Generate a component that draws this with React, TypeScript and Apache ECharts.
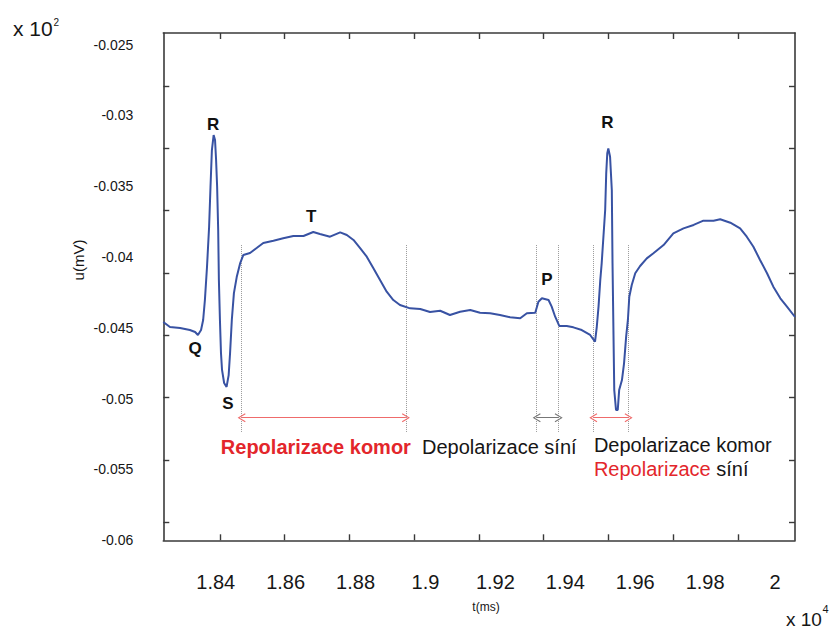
import React, { useEffect, useRef } from "react";
import * as echarts from "echarts";

// ECG trace: t in units of 10^4 ms, u in units of 10^2 mV
const timeX = [
  1.825, 1.8269, 1.8298, 1.8326, 1.8341, 1.8349, 1.8358, 1.8364, 1.8369, 1.8375,
  1.8381, 1.8385, 1.8389, 1.8394, 1.8398, 1.8401, 1.8404, 1.8407, 1.8409, 1.8412,
  1.8415, 1.8418, 1.8424, 1.8431, 1.8437, 1.8441, 1.8446, 1.8452, 1.846, 1.847,
  1.8479, 1.8498, 1.8517, 1.8536, 1.8565, 1.8593, 1.8622, 1.8651, 1.8679, 1.8698,
  1.8727, 1.8756, 1.8775, 1.8794, 1.8813, 1.8832, 1.8851, 1.887, 1.8889, 1.8908,
  1.8927, 1.8956, 1.8985, 1.9013, 1.9042, 1.907, 1.9099, 1.9128, 1.9156, 1.9185,
  1.9213, 1.9242, 1.9271, 1.929, 1.9314, 1.9323, 1.9333, 1.9352, 1.9361, 1.9371,
  1.9383, 1.9404, 1.9423, 1.9447, 1.9471, 1.9485, 1.949, 1.9495, 1.95, 1.9504,
  1.9509, 1.9514, 1.9517, 1.952, 1.9523, 1.9528, 1.9533, 1.9535, 1.9538, 1.954,
  1.9545, 1.955, 1.9554, 1.9562, 1.9568, 1.9574, 1.9579, 1.9583, 1.959, 1.96,
  1.9614, 1.9633, 1.9652, 1.9681, 1.9709, 1.9738, 1.9767, 1.9795, 1.9824, 1.9843,
  1.9872, 1.99, 1.9919, 1.9938, 1.9957, 1.9977, 1.9995, 2.0015, 2.0034, 2.0057,
];
const voltY = [
  -0.04458, -0.04494, -0.04501, -0.04515, -0.04529, -0.0455, -0.04515, -0.04444, -0.04303, -0.0407,
  -0.03787, -0.03505, -0.03244, -0.03138, -0.03173, -0.03314, -0.03505, -0.03809, -0.04162, -0.04444,
  -0.04677, -0.04797, -0.04889, -0.04917, -0.04833, -0.04677, -0.04444, -0.04254, -0.04141, -0.04042,
  -0.03985, -0.03971, -0.03936, -0.039, -0.03884, -0.03867, -0.03851, -0.03851, -0.03823, -0.03837,
  -0.03856, -0.03825, -0.03844, -0.03879, -0.03936, -0.03997, -0.04079, -0.04162, -0.04244, -0.04303,
  -0.04338, -0.04362, -0.04367, -0.04388, -0.04379, -0.04409, -0.04386, -0.04374, -0.04393, -0.04397,
  -0.04409, -0.04425, -0.04432, -0.04397, -0.04393, -0.04315, -0.04291, -0.04303, -0.0435, -0.04421,
  -0.04487, -0.04487, -0.04496, -0.04515, -0.0455, -0.04597, -0.04492, -0.0435, -0.04162, -0.04044,
  -0.03856, -0.03667, -0.03408, -0.03267, -0.03232, -0.03291, -0.03526, -0.04044, -0.04585, -0.04939,
  -0.0508, -0.0508, -0.04939, -0.04868, -0.0475, -0.04562, -0.04444, -0.0428, -0.04197, -0.04114,
  -0.04063, -0.04009, -0.03973, -0.03915, -0.03832, -0.03797, -0.03773, -0.03743, -0.03743, -0.03733,
  -0.03757, -0.03797, -0.03856, -0.03927, -0.0402, -0.04114, -0.04209, -0.04291, -0.0435, -0.04423,
];

const labelX = [1.84, 1.86, 1.88, 1.9, 1.92, 1.94, 1.96, 1.98, 2];
const labelY = [-0.06, -0.055, -0.05, -0.045, -0.04, -0.035, -0.03, -0.025];
const tickX = [1.84123, 1.85974, 1.87825, 1.89677, 1.91528, 1.93379, 1.9523, 1.97082, 1.98933];
const tickY = [-0.05874, -0.05433, -0.04993, -0.04552, -0.04114, -0.03672, -0.03232, -0.02792];

const waveLetters = ["R", "Q", "S", "T", "P", "R"];
const waveLetterX = [1.83923, 1.83408, 1.84352, 1.86727, 1.93471, 1.95205];
const waveLetterY = [-0.03067, -0.04644, -0.05032, -0.03715, -0.04155, -0.03051];

const markerX = [1.8474, 1.8944, 1.9318, 1.9381, 1.948, 1.9581];
const markerTop = -0.03915;
const markerBottom = -0.05235;
const arrowY = -0.05134;
const redSpans = [[1.8474, 1.8944], [1.948, 1.9581]];
const graySpans = [[1.9318, 1.9381]];

const RED = "#e3262b";
const DARK = "#161616";
const FONT = "'Liberation Sans', Arial, Helvetica, sans-serif";
const CHEVRON = "path://M5,0 L10,9 L8.9,9.7 L5,2.4 L1.1,9.7 L0,9 Z";

export default function App() {
  const ref = useRef<HTMLDivElement>(null);
  useEffect(() => {
    if (!ref.current) return;
    const chart = echarts.init(ref.current, null, { renderer: "svg" });
    const lineData = timeX.map((t, i) => [t, voltY[i]]);
    const dotted = markerX.map((x) => [
      { coord: [x, markerTop] },
      { coord: [x, markerBottom] },
    ]);
    const arrows = [
      ...redSpans.map(([a, b]) => [
        { coord: [a, arrowY], lineStyle: { color: "#ef6b6b" } },
        { coord: [b, arrowY] },
      ]),
      ...graySpans.map(([a, b]) => [
        { coord: [a, arrowY], lineStyle: { color: "#777777" } },
        { coord: [b, arrowY] },
      ]),
    ];
    const axisLine = { show: true, lineStyle: { color: "#3a3a3a", width: 1.6 } };
    const tickStyle = { color: "#3a3a3a", width: 1.4 };
    chart.setOption({
      animation: false,
      textStyle: { fontFamily: FONT },
      grid: { left: 163.3, right: 40, top: 33, bottom: 89.7 },
      xAxis: [
        {
          type: "value",
          position: "bottom",
          min: 1.825,
          max: 2.0057,
          axisLine,
          splitLine: { show: false },
          axisTick: { show: true, inside: true, length: 6, customValues: tickX, lineStyle: tickStyle },
          axisLabel: {
            customValues: labelX,
            margin: 32,
            fontSize: 20,
            color: DARK,
            formatter: (v: number) => String(+v.toFixed(2)),
          },
        },
        {
          type: "value",
          position: "top",
          min: 1.825,
          max: 2.0057,
          axisLine,
          splitLine: { show: false },
          axisTick: { show: true, inside: true, length: 6, customValues: tickX, lineStyle: tickStyle },
          axisLabel: { show: false },
        },
      ],
      yAxis: [
        {
          type: "value",
          position: "left",
          min: -0.06,
          max: -0.024174,
          axisLine,
          splitLine: { show: false },
          axisTick: { show: true, inside: true, length: 6, customValues: tickY, lineStyle: tickStyle },
          axisLabel: {
            customValues: labelY,
            margin: 30,
            fontSize: 14,
            color: DARK,
            formatter: (v: number) => String(+v.toFixed(3)),
          },
        },
        {
          type: "value",
          position: "right",
          min: -0.06,
          max: -0.024174,
          axisLine,
          splitLine: { show: false },
          axisTick: { show: true, inside: true, length: 6, customValues: tickY, lineStyle: tickStyle },
          axisLabel: { show: false },
        },
      ],
      series: [
        {
          type: "line",
          xAxisIndex: 0,
          yAxisIndex: 0,
          data: lineData,
          showSymbol: false,
          silent: true,
          lineStyle: { color: "#3852a3", width: 2 },
          z: 3,
          markLine: {
            silent: true,
            symbol: ["none", "none"],
            label: { show: false },
            lineStyle: { type: "dotted", color: "#9a9a9a", width: 1 },
            data: dotted,
            z: 1,
          },
        },
        {
          type: "line",
          xAxisIndex: 0,
          yAxisIndex: 0,
          data: [],
          silent: true,
          markLine: {
            silent: true,
            symbol: [CHEVRON, CHEVRON],
            symbolSize: [9, 8],
            label: { show: false },
            lineStyle: { type: "solid", width: 1 },
            data: arrows,
          },
        },
        {
          type: "scatter",
          xAxisIndex: 0,
          yAxisIndex: 0,
          silent: true,
          symbolSize: 1,
          itemStyle: { color: "rgba(0,0,0,0)", opacity: 1 },
          data: waveLetters.map((t, i) => ({
            value: [waveLetterX[i], waveLetterY[i]],
            label: { formatter: t },
          })),
          label: {
            show: true,
            position: "inside",
            fontSize: 17,
            fontWeight: "bold",
            color: "#111111",
            opacity: 1,
          },
          z: 5,
        },
        {
          type: "scatter",
          xAxisIndex: 0,
          yAxisIndex: 0,
          silent: true,
          symbolSize: 1,
          itemStyle: { color: "rgba(0,0,0,0)", opacity: 1 },
          data: [
            {
              value: [1.86864, -0.05339],
              label: { formatter: "Repolarizace komor", color: RED, fontWeight: "bold", position: "inside" },
            },
            {
              value: [1.92112, -0.05339],
              label: { formatter: "Depolarizace síní", color: DARK, position: "inside" },
            },
            {
              value: [1.94804, -0.05327],
              label: { formatter: "Depolarizace komor", color: DARK, position: "right", distance: 0 },
            },
            {
              value: [1.94804, -0.05499],
              label: {
                formatter: "{r|Repolarizace} {k|síní}",
                position: "right",
                distance: 0,
                rich: {
                  r: { color: RED, fontSize: 20, fontFamily: FONT },
                  k: { color: DARK, fontSize: 20, fontFamily: FONT },
                },
              },
            },
          ],
          label: { show: true, fontSize: 20, opacity: 1 },
          z: 5,
        },
      ],
      graphic: [
        {
          type: "text",
          x: 13,
          y: 28,
          style: { text: "x 10", font: `21px ${FONT}`, fill: DARK, verticalAlign: "middle" },
        },
        {
          type: "text",
          x: 53.5,
          y: 22,
          style: { text: "2", font: `10px ${FONT}`, fill: DARK, verticalAlign: "middle" },
        },
        {
          type: "text",
          x: 786,
          y: 619,
          style: { text: "x 10", font: `19px ${FONT}`, fill: DARK, verticalAlign: "middle" },
        },
        {
          type: "text",
          x: 822.5,
          y: 609,
          style: { text: "4", font: `11px ${FONT}`, fill: DARK, verticalAlign: "middle" },
        },
        {
          type: "text",
          x: 78,
          y: 260,
          rotation: Math.PI / 2,
          style: {
            text: "u(mV)",
            font: `15px ${FONT}`,
            fill: DARK,
            align: "center",
            verticalAlign: "middle",
          },
        },
        {
          type: "text",
          x: 486,
          y: 607,
          style: {
            text: "t(ms)",
            font: `12px ${FONT}`,
            fill: DARK,
            align: "center",
            verticalAlign: "middle",
          },
        },
      ],
    });
    return () => chart.dispose();
  }, []);
  return (
    <div
      ref={ref}
      style={{ position: "fixed", left: 0, top: 0, width: 835, height: 630, background: "#fff" }}
    />
  );
}
